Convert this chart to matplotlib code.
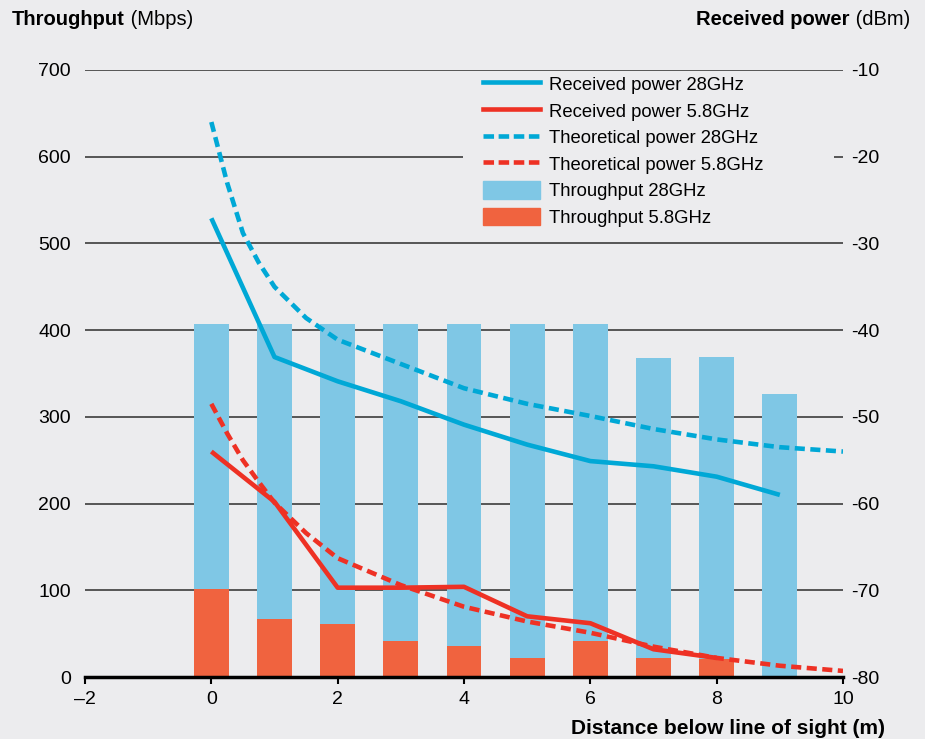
import matplotlib
matplotlib.use("Agg")
import matplotlib.pyplot as plt
from matplotlib.patches import Patch, Rectangle
from matplotlib.lines import Line2D

plt.rcParams['font.family'] = ['Liberation Sans', 'DejaVu Sans']

# ---- data ----
distance = [0, 1, 2, 3, 4, 5, 6, 7, 8, 9]
thr_28 = [407, 407, 407, 407, 407, 407, 407, 368, 369, 326]
thr_58 = [101, 67, 61, 41, 36, 22, 41, 22, 21, 0]

rx_28_x = [0, 1, 2, 3, 4, 5, 6, 7, 8, 9]
rx_28 = [-27.1, -43.1, -45.9, -48.2, -50.9, -53.2, -55.1, -55.7, -56.9, -59.0]
rx_58_x = [0, 1, 2, 3, 4, 5, 6, 7, 8]
rx_58 = [-54.0, -59.8, -69.7, -69.7, -69.6, -73.0, -73.8, -76.8, -77.8]

th_x = [0, 0.25, 0.5, 0.75, 1, 1.5, 2, 3, 4, 5, 6, 7, 8, 9, 10]
th_28 = [-16.0, -23.0, -28.8, -32.2, -35.0, -38.6, -41.1, -43.9, -46.7,
         -48.5, -49.9, -51.4, -52.6, -53.5, -54.0]
th_58 = [-48.5, -51.9, -55.0, -57.5, -59.9, -63.4, -66.3, -69.4, -71.9,
         -73.6, -74.9, -76.5, -77.8, -78.7, -79.3]

BG = "#ECECEE"
BLUE_BAR = "#7FC7E5"
RED_BAR = "#F0633F"
BLUE = "#00A8D6"
RED = "#EE3124"
FS = 14

fig = plt.figure(figsize=(9.25, 7.39), dpi=100, facecolor=BG)
ax = fig.add_axes([85 / 925, 1 - 677 / 739, 758 / 925, 607 / 739])
ax.set_facecolor(BG)

ax.bar(distance, thr_28, width=0.55, color=BLUE_BAR, zorder=2)
ax.bar(distance, thr_58, width=0.55, color=RED_BAR, zorder=3)

ax.set_xlim(-2, 10)
ax.set_ylim(0, 700)
ax.set_xticks(range(-2, 11, 2))
ax.set_xticklabels([("\u2013" + str(-v)) if v < 0 else str(v) for v in range(-2, 11, 2)])
ax.set_yticks(range(0, 701, 100))
for v in range(100, 701, 100):
    ax.axhline(v, color="#4a4a4a", lw=1.3, zorder=1)
# background box behind the legend (hides part of the 600 gridline)
ax.add_patch(Rectangle((0.4987, 0.723), 0.49, 0.272, transform=ax.transAxes,
                       facecolor=BG, edgecolor="none", zorder=1.5))
for s in ["left", "right", "top"]:
    ax.spines[s].set_visible(False)
ax.spines["bottom"].set_color("black")
ax.spines["bottom"].set_linewidth(2.5)
ax.spines["bottom"].set_zorder(6)
ax.tick_params(axis="x", direction="out", length=5, width=1.5, labelsize=FS,
               pad=5, colors="black")
ax.tick_params(axis="y", length=0, labelsize=FS, pad=10)

ax2 = ax.twinx()
ax2.set_ylim(-80, -10)
ax2.set_yticks(range(-80, -9, 10))
ax2.set_yticklabels([str(v) for v in range(-80, -9, 10)])
for s in ["left", "right", "top", "bottom"]:
    ax2.spines[s].set_visible(False)
ax2.tick_params(axis="y", length=0, labelsize=FS, pad=6)

lw = 3.3
ax2.plot(th_x, th_28, color=BLUE, lw=lw, dashes=(2.2, 1.2), zorder=3)
ax2.plot(th_x, th_58, color=RED, lw=lw, dashes=(2.2, 1.2), zorder=3)
ax2.plot(rx_28_x, rx_28, color=BLUE, lw=lw, zorder=4, solid_capstyle="butt")
ax2.plot(rx_58_x, rx_58, color=RED, lw=lw, zorder=4, solid_capstyle="butt")

handles = [
    Line2D([], [], color=BLUE, lw=lw),
    Line2D([], [], color=RED, lw=lw),
    Line2D([], [], color=BLUE, lw=lw, dashes=(2.3, 1.0)),
    Line2D([], [], color=RED, lw=lw, dashes=(2.3, 1.0)),
    Patch(color=BLUE_BAR),
    Patch(color=RED_BAR),
]
labels = ["Received power 28GHz", "Received power 5.8GHz",
          "Theoretical power 28GHz", "Theoretical power 5.8GHz",
          "Throughput 28GHz", "Throughput 5.8GHz"]
leg = ax2.legend(handles, labels, loc="upper left", bbox_to_anchor=(0.525, 0.992),
                 frameon=False, fontsize=13.3, handlelength=3.1,
                 handleheight=1.1, handletextpad=0.45, labelspacing=0.4,
                 borderpad=0, borderaxespad=0)
leg.set_zorder(10)

# axis titles
t = fig.text(12 / 925, 1 - 25 / 739, "Throughput", fontsize=14.5,
             fontweight="bold", ha="left", va="baseline")
ax.annotate(" (Mbps)", xy=(1, 0), xycoords=t, fontsize=14.5,
            ha="left", va="bottom", annotation_clip=False)
t2 = fig.text(910 / 925, 1 - 25 / 739, " (dBm)", fontsize=14.5,
              ha="right", va="baseline")
ax.annotate("Received power", xy=(0, 0), xycoords=t2, fontsize=14.5,
            fontweight="bold", ha="right", va="bottom", annotation_clip=False)
fig.text(885 / 925, 1 - 734 / 739, "Distance below line of sight (m)",
         fontsize=15, fontweight="bold", ha="right", va="baseline")

fig.savefig("out.png", dpi=100, facecolor=BG)
